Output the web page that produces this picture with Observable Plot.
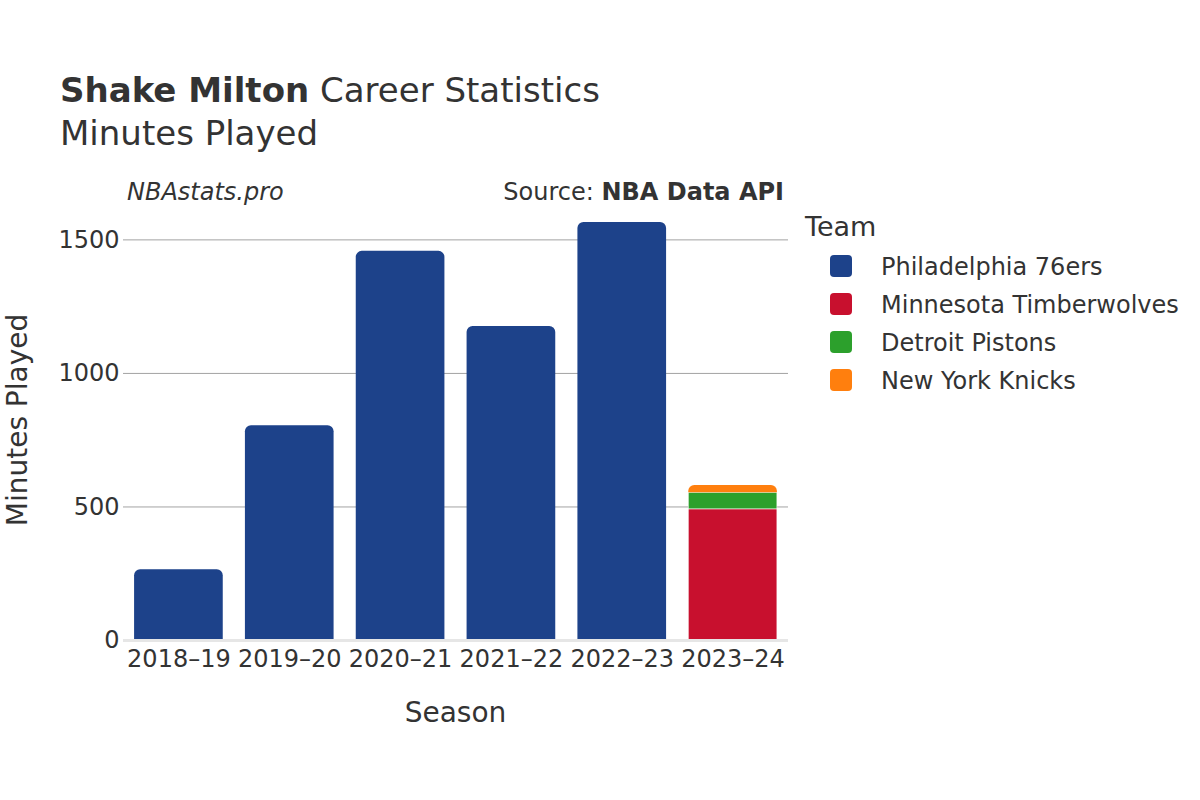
<!DOCTYPE html>
<html>
<head>
<meta charset="utf-8">
<script src="https://cdn.jsdelivr.net/npm/d3@7"></script>
<script src="https://cdn.jsdelivr.net/npm/@observablehq/plot@0.6"></script>
<style>
  html, body { margin: 0; padding: 0; background: #fff; }
  #chart { width: 1200px; height: 800px; }
</style>
</head>
<body>
<div id="chart"></div>
<script>
// ---- Data ----
const seasons = ["2018–19", "2019–20", "2020–21", "2021–22", "2022–23", "2023–24"];
const teams = ["Philadelphia 76ers", "Minnesota Timberwolves", "Detroit Pistons", "New York Knicks"];
const teamColors = ["#1d428a", "#c8102e", "#2ca02c", "#ff7f0e"];
const rowSeason = ["2018–19", "2019–20", "2020–21", "2021–22", "2022–23", "2023–24", "2023–24", "2023–24"];
const rowTeam = ["Philadelphia 76ers", "Philadelphia 76ers", "Philadelphia 76ers", "Philadelphia 76ers", "Philadelphia 76ers", "Minnesota Timberwolves", "Detroit Pistons", "New York Knicks"];
const rowMinutes = [265, 804, 1457, 1176, 1565, 491, 62, 27];
const yTicks = [0, 500, 1000, 1500];

// ---- Build stacked table ----
const cum = new Map();
const rows = rowSeason.map((s, i) => {
  const base = cum.get(s) || 0;
  cum.set(s, base + rowMinutes[i]);
  return { season: s, team: rowTeam[i], minutes: rowMinutes[i], y1: base, y2: base + rowMinutes[i] };
});
const lastIndex = new Map();
rows.forEach((r, i) => lastIndex.set(r.season, i));
const topRows = rows.filter((r, i) => lastIndex.get(r.season) === i);
const innerRows = rows.filter((r, i) => lastIndex.get(r.season) !== i);

const textColor = "#333";

const chart = Plot.plot({
  width: 1200,
  height: 800,
  marginLeft: 123,
  marginRight: 412,
  marginTop: 206,
  marginBottom: 160,
  style: { fontFamily: "DejaVu Sans", fontSize: "24px", color: textColor, background: "#fff" },
  x: { domain: seasons, paddingInner: 0.2, paddingOuter: 0.1, round: false, label: null },
  y: { domain: [0, 1625], label: null },
  color: { domain: teams, range: teamColors },
  marks: [
    Plot.ruleY(yTicks.filter(d => d > 0), { stroke: "#a3a3a3", strokeWidth: 1 }),
    Plot.barY(innerRows, { x: "season", y1: "y1", y2: "y2", fill: "team", stroke: "#fff", strokeWidth: 0.6 }),
    Plot.barY(topRows, { x: "season", y1: "y1", y2: "y2", fill: "team", ry1: 6 }),
    Plot.ruleY([0], { stroke: "#e6e6e6", strokeWidth: 3 }),
    Plot.axisX({ tickSize: 0, tickPadding: 9, fontSize: 24, fill: textColor, label: null }),
    Plot.axisY({ ticks: yTicks, tickFormat: d3.format("d"), tickSize: 0, tickPadding: 4, fontSize: 24, fill: textColor, label: null })
  ]
});

document.getElementById("chart").appendChild(chart);

// ---- Titles, notes and legend ----
const svg = d3.select(chart);
const font = "DejaVu Sans";
const g = svg.append("g").attr("text-anchor", "start").attr("font-family", font).attr("fill", textColor);

const title = g.append("text").attr("x", 60).attr("y", 102).attr("font-size", 34);
title.append("tspan").attr("font-weight", "bold").text("Shake Milton");
title.append("tspan").text(" Career Statistics");

g.append("text").attr("x", 60).attr("y", 145).attr("font-size", 34)
  .text("Minutes Played");

g.append("text").attr("x", 127).attr("y", 200).attr("font-size", 24).attr("font-style", "italic")
  .text("NBAstats.pro");

const src = g.append("text").attr("x", 784).attr("y", 200).attr("text-anchor", "end").attr("font-size", 24);
src.append("tspan").text("Source: ");
src.append("tspan").attr("font-weight", "bold").text("NBA Data API");

g.append("text").attr("x", 455.5).attr("y", 722).attr("text-anchor", "middle").attr("font-size", 28)
  .text("Season");

g.append("text").attr("transform", "translate(27,420) rotate(-90)").attr("text-anchor", "middle").attr("font-size", 28)
  .text("Minutes Played");

g.append("text").attr("x", 805).attr("y", 236).attr("font-size", 27)
  .text("Team");

teams.forEach((t, i) => {
  const cy = 266 + i * 38;
  g.append("rect").attr("x", 830).attr("y", cy - 11).attr("width", 22).attr("height", 22)
    .attr("rx", 4).attr("fill", teamColors[i]);
  g.append("text").attr("x", 881).attr("y", cy + 8.5).attr("font-size", 24)
    .text(t);
});
</script>
</body>
</html>
